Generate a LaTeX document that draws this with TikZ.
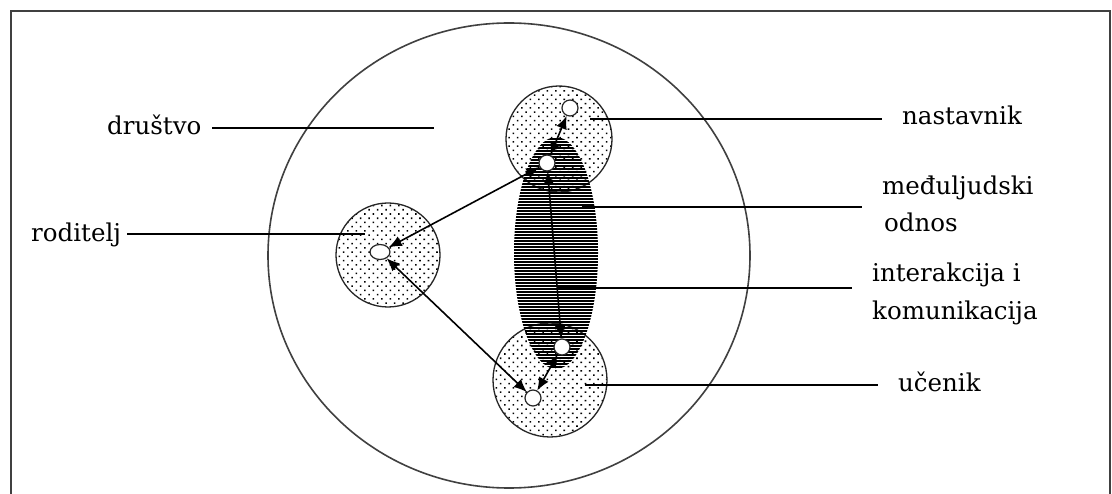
\documentclass[tikz,border=0pt]{standalone}
\usepackage{fontspec}
\setmainfont{DejaVu Serif}
\usetikzlibrary{patterns.meta,arrows.meta,shapes.geometric}
\tikzset{
  lbl/.style={anchor=base west, inner sep=0pt, font=\fontsize{24.5}{28}\selectfont},
  leader/.style={draw=black, line width=1.7pt},
  dotted disc/.style={circle, draw=black!85, line width=1.3pt, pattern={Dots[distance=6pt, radius=1.1pt, angle=45]}},
  hole/.style={circle, draw=black!85, fill=white, line width=1.2pt, inner sep=0pt, minimum size=16pt},
  rel/.style={draw=black, line width=1.6pt, {Latex[length=13pt,width=11pt]}-{Latex[length=13pt,width=11pt]}},
  hatchline/.style={draw=black, line width=1.3pt},
}
\begin{document}
\begin{tikzpicture}[x=1pt,y=-1pt]
\useasboundingbox (0,0) rectangle (1112,494);
\fill[white] (0,0) rectangle (1112,494);
% frame
\coordinate (f1) at (11,500);
\coordinate (f2) at (11,11);
\coordinate (f3) at (1110,11);
\coordinate (f4) at (1110,500);
\draw[line width=2.2pt, draw=black!75] (f1) -- (f2) -- (f3) -- (f4);
% society
\node (soc) [ellipse, draw=black!75, line width=1.6pt, minimum width=482pt, minimum height=465pt, inner sep=0pt] at (509,255.5) {};
% persons
\node (nas) [dotted disc, minimum size=106pt] at (559,139) {};
\node (rod) [dotted disc, minimum size=104pt] at (388,255) {};
\node (uce) [dotted disc, minimum size=114pt] at (550,380) {};
% relation ellipse (horizontal hatching)
\node (odn) [ellipse, minimum width=84pt, minimum height=232pt, inner sep=0pt] at (556,253) {};
\begin{scope}
  \clip (556,253) ellipse [x radius=42, y radius=116];
  \foreach \yy in {136,139,...,372} {
    \draw[hatchline] (510,\yy) -- (602,\yy);
  }
\end{scope}
% holes
\node (n1) [hole] at (570,108) {};
\node (n2) [hole] at (547,163) {};
\node (r1) [hole, ellipse, minimum width=20pt, minimum height=15pt] at (380,252) {};
\node (u1) [hole] at (562,347) {};
\node (u2) [hole] at (533,398) {};
% relations
\draw[rel] (n2) -- (n1);
\draw[rel] (n2) -- (u1);
\draw[rel] (u1) -- (u2);
\draw[rel] (r1) -- (n2);
\draw[rel] (r1) -- (u2);
% labels
\node (tdr) [lbl] at (107,135) {društvo};
\node (tro) [lbl] at (31,242) {roditelj};
\node (tna) [lbl] at (902,125) {nastavnik};
\node (tme) [lbl] at (882,195) {međuljudski};
\node (tod) [lbl] at (884,232) {odnos};
\node (tin) [lbl] at (872,282) {interakcija i};
\node (tko) [lbl] at (872,320) {komunikacija};
\node (tuc) [lbl] at (898,392) {učenik};
% leader lines
\coordinate (ldr1) at (212,128); \coordinate (ldr2) at (434,128);
\coordinate (lro1) at (127,234); \coordinate (lro2) at (365,234);
\coordinate (lna1) at (590,119); \coordinate (lna2) at (882,119);
\coordinate (lme1) at (582,207); \coordinate (lme2) at (862,207);
\coordinate (lin1) at (558,288); \coordinate (lin2) at (852,288);
\coordinate (luc1) at (585,385); \coordinate (luc2) at (878,385);
\draw[leader] (ldr1) -- (ldr2);
\draw[leader] (lro1) -- (lro2);
\draw[leader] (lna1) -- (lna2);
\draw[leader] (lme1) -- (lme2);
\draw[leader] (lin1) -- (lin2);
\draw[leader] (luc1) -- (luc2);
\end{tikzpicture}
\end{document}
